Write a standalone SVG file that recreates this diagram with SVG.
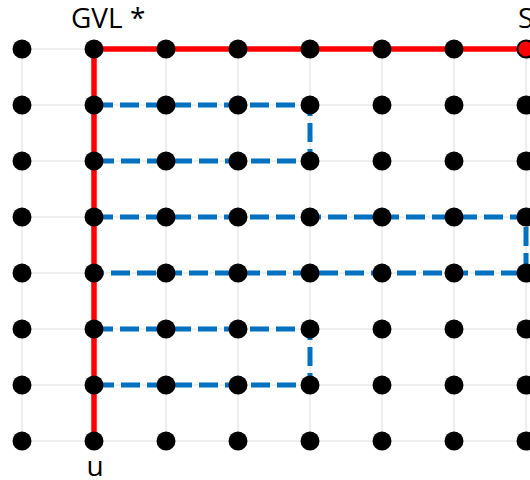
<svg xmlns="http://www.w3.org/2000/svg" width="530" height="480" viewBox="0 0 530 480">
<defs>
<style>
.grid{stroke:#dddddd;stroke-width:1;fill:none}
.red{stroke:#ff0000;stroke-width:5.5;fill:none}
.blue{stroke:#0070c0;stroke-width:5;fill:none;stroke-dasharray:19,7}
.n{fill:#000000}
.lbl{font-family:"Open Sans","DejaVu Sans",sans-serif;font-size:28px;fill:#000000}
</style>
</defs>
<rect width="530" height="480" fill="#ffffff"/>
<g id="grid">
<path class="grid" d="M22,49V441M94,49V441M166,49V441M238,49V441M310,49V441M382,49V441M454,49V441M526,49V441M22,49H530M22,105H530M22,161H530M22,217H530M22,273H530M22,329H530M22,385H530M22,441H530"/>
</g>
<g id="connectors">
<path class="blue" d="M94,105H310V161H94"/>
<path class="blue" d="M94,217H526V273H94"/>
<path class="blue" d="M94,329H310V385H94"/>
<path class="red" d="M94,441V49H526"/>
</g>
<g id="nodes">
<g id="r0"><circle class="n" cx="22" cy="49" r="9.5"/><circle class="n" cx="94" cy="49" r="9.5"/><circle class="n" cx="166" cy="49" r="9.5"/><circle class="n" cx="238" cy="49" r="9.5"/><circle class="n" cx="310" cy="49" r="9.5"/><circle class="n" cx="382" cy="49" r="9.5"/><circle class="n" cx="454" cy="49" r="9.5"/><circle id="S" cx="526" cy="49" r="8.5" fill="#ff0000" stroke="#000000" stroke-width="2"/></g>
<g id="r1"><circle class="n" cx="22" cy="105" r="9.5"/><circle class="n" cx="94" cy="105" r="9.5"/><circle class="n" cx="166" cy="105" r="9.5"/><circle class="n" cx="238" cy="105" r="9.5"/><circle class="n" cx="310" cy="105" r="9.5"/><circle class="n" cx="382" cy="105" r="9.5"/><circle class="n" cx="454" cy="105" r="9.5"/><circle class="n" cx="526" cy="105" r="9.5"/></g>
<g id="r2"><circle class="n" cx="22" cy="161" r="9.5"/><circle class="n" cx="94" cy="161" r="9.5"/><circle class="n" cx="166" cy="161" r="9.5"/><circle class="n" cx="238" cy="161" r="9.5"/><circle class="n" cx="310" cy="161" r="9.5"/><circle class="n" cx="382" cy="161" r="9.5"/><circle class="n" cx="454" cy="161" r="9.5"/><circle class="n" cx="526" cy="161" r="9.5"/></g>
<g id="r3"><circle class="n" cx="22" cy="217" r="9.5"/><circle class="n" cx="94" cy="217" r="9.5"/><circle class="n" cx="166" cy="217" r="9.5"/><circle class="n" cx="238" cy="217" r="9.5"/><circle class="n" cx="310" cy="217" r="9.5"/><circle class="n" cx="382" cy="217" r="9.5"/><circle class="n" cx="454" cy="217" r="9.5"/><circle class="n" cx="526" cy="217" r="9.5"/></g>
<g id="r4"><circle class="n" cx="22" cy="273" r="9.5"/><circle class="n" cx="94" cy="273" r="9.5"/><circle class="n" cx="166" cy="273" r="9.5"/><circle class="n" cx="238" cy="273" r="9.5"/><circle class="n" cx="310" cy="273" r="9.5"/><circle class="n" cx="382" cy="273" r="9.5"/><circle class="n" cx="454" cy="273" r="9.5"/><circle class="n" cx="526" cy="273" r="9.5"/></g>
<g id="r5"><circle class="n" cx="22" cy="329" r="9.5"/><circle class="n" cx="94" cy="329" r="9.5"/><circle class="n" cx="166" cy="329" r="9.5"/><circle class="n" cx="238" cy="329" r="9.5"/><circle class="n" cx="310" cy="329" r="9.5"/><circle class="n" cx="382" cy="329" r="9.5"/><circle class="n" cx="454" cy="329" r="9.5"/><circle class="n" cx="526" cy="329" r="9.5"/></g>
<g id="r6"><circle class="n" cx="22" cy="385" r="9.5"/><circle class="n" cx="94" cy="385" r="9.5"/><circle class="n" cx="166" cy="385" r="9.5"/><circle class="n" cx="238" cy="385" r="9.5"/><circle class="n" cx="310" cy="385" r="9.5"/><circle class="n" cx="382" cy="385" r="9.5"/><circle class="n" cx="454" cy="385" r="9.5"/><circle class="n" cx="526" cy="385" r="9.5"/></g>
<g id="r7"><circle class="n" cx="22" cy="441" r="9.5"/><circle class="n" cx="94" cy="441" r="9.5"/><circle class="n" cx="166" cy="441" r="9.5"/><circle class="n" cx="238" cy="441" r="9.5"/><circle class="n" cx="310" cy="441" r="9.5"/><circle class="n" cx="382" cy="441" r="9.5"/><circle class="n" cx="454" cy="441" r="9.5"/><circle class="n" cx="526" cy="441" r="9.5"/></g>
</g>
<g id="labels">
<text class="lbl" x="71" y="28">GVL *</text>
<text class="lbl" x="518" y="28">S</text>
<text class="lbl" x="95" y="476" text-anchor="middle">u</text>
</g>
</svg>
